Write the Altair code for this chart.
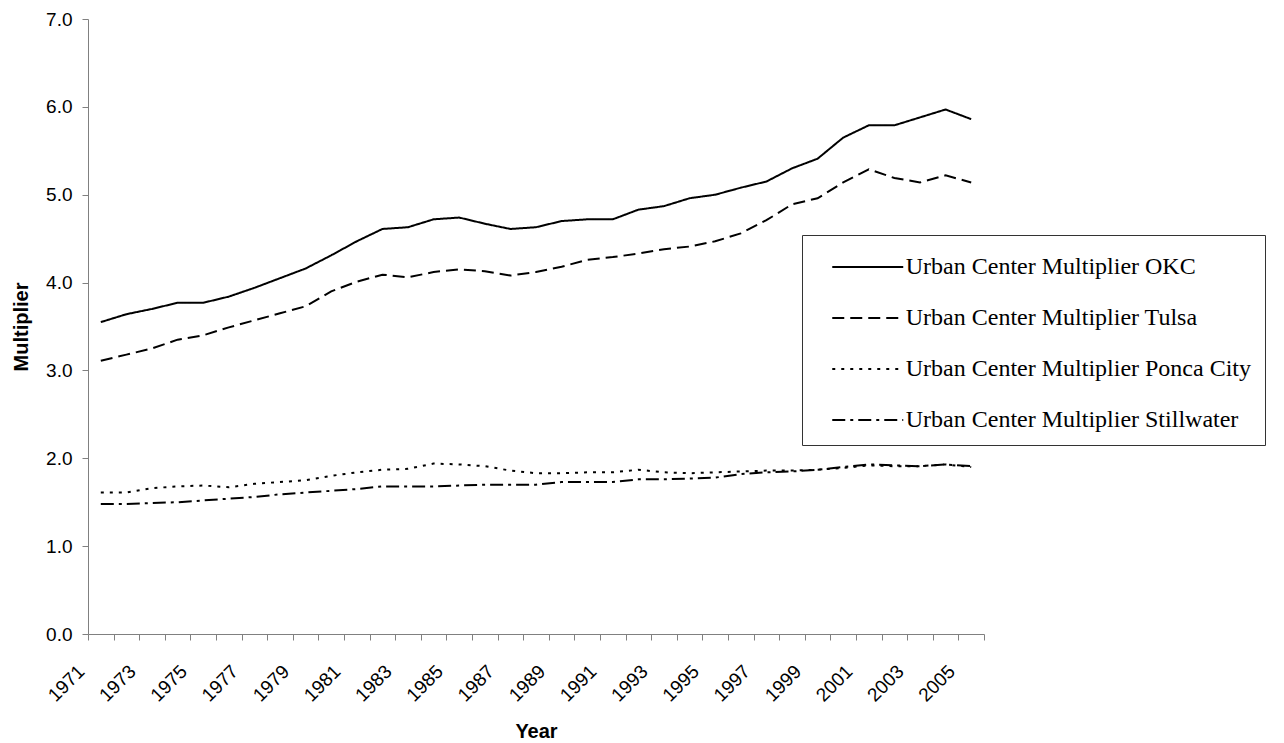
import altair as alt
import pandas as pd

years = [1971, 1972, 1973, 1974, 1975, 1976, 1977, 1978, 1979, 1980,
         1981, 1982, 1983, 1984, 1985, 1986, 1987, 1988, 1989, 1990,
         1991, 1992, 1993, 1994, 1995, 1996, 1997, 1998, 1999, 2000,
         2001, 2002, 2003, 2004, 2005]

okc = [3.55, 3.64, 3.70, 3.77, 3.77, 3.84, 3.94, 4.05, 4.16, 4.31,
       4.47, 4.61, 4.63, 4.72, 4.74, 4.67, 4.61, 4.63, 4.70, 4.72,
       4.72, 4.83, 4.87, 4.96, 5.00, 5.08, 5.15, 5.30, 5.41, 5.65,
       5.79, 5.79, 5.88, 5.97, 5.86]

tulsa = [3.11, 3.18, 3.25, 3.35, 3.40, 3.49, 3.57, 3.65, 3.73, 3.90,
         4.01, 4.09, 4.06, 4.12, 4.15, 4.13, 4.08, 4.12, 4.18, 4.26,
         4.29, 4.33, 4.38, 4.41, 4.47, 4.56, 4.71, 4.89, 4.96, 5.14,
         5.29, 5.19, 5.14, 5.22, 5.14]

ponca = [1.61, 1.61, 1.66, 1.68, 1.69, 1.67, 1.71, 1.73, 1.75, 1.80,
         1.84, 1.87, 1.88, 1.94, 1.93, 1.91, 1.86, 1.83, 1.83, 1.84,
         1.84, 1.87, 1.84, 1.83, 1.84, 1.85, 1.86, 1.86, 1.87, 1.89,
         1.92, 1.91, 1.91, 1.93, 1.90]

stillwater = [1.48, 1.48, 1.49, 1.50, 1.52, 1.54, 1.56, 1.59, 1.61, 1.63,
              1.65, 1.68, 1.68, 1.68, 1.69, 1.70, 1.70, 1.70, 1.73, 1.73,
              1.73, 1.76, 1.76, 1.77, 1.78, 1.82, 1.84, 1.85, 1.87, 1.90,
              1.93, 1.92, 1.91, 1.93, 1.91]

series_names = ["Urban Center Multiplier OKC",
                "Urban Center Multiplier Tulsa",
                "Urban Center Multiplier Ponca City",
                "Urban Center Multiplier Stillwater"]
dash_styles = [[1, 0], [12, 6], [3, 6], [13, 5, 3, 5]]

y_ticks = [0, 1, 2, 3, 4, 5, 6, 7]

rows = []
for name, vals in zip(series_names, [okc, tulsa, ponca, stillwater]):
    for yr, v in zip(years, vals):
        rows.append({"Year": yr, "Multiplier": v, "Series": name})
df = pd.DataFrame(rows)

# tick marks sit on the category boundaries
tick_vals = [yr - 0.5 for yr in years] + [years[-1] + 0.5]

W, H = 896, 615

chart = alt.Chart(df).mark_line(color="black", strokeWidth=2).encode(
    x=alt.X("Year:Q",
            scale=alt.Scale(domain=[years[0] - 0.5, years[-1] + 0.5], nice=False, zero=False),
            axis=alt.Axis(values=tick_vals,
                          labelExpr="(datum.value + 0.5) % 2 == 1 ? toString(datum.value + 0.5) : ''",
                          labelAngle=-45, labelAlign="right", labelBaseline="middle",
                          labelOffset=-7, labelPadding=28,
                          labelFont="Liberation Sans", labelFontSize=19, labelColor="black",
                          labelOverlap=False, labelFlush=False,
                          tickSize=6, tickColor="#808080", domainColor="#808080",
                          tickWidth=1, domainWidth=1, grid=False,
                          title="Year", titleFont="Liberation Sans", titleFontSize=20,
                          titleFontWeight="bold", titleColor="black",
                          titleX=W / 2, titleY=103, titleBaseline="alphabetic",
                          titleAlign="center")),
    y=alt.Y("Multiplier:Q",
            scale=alt.Scale(domain=[0, 7], nice=False),
            axis=alt.Axis(values=y_ticks, format=".1f",
                          labelFont="Liberation Sans", labelFontSize=19, labelColor="black",
                          labelPadding=10, tickSize=6, tickColor="#808080",
                          domainColor="#808080", tickWidth=1, domainWidth=1, grid=False,
                          title="Multiplier", titleFont="Liberation Sans", titleFontSize=20,
                          titleFontWeight="bold", titleColor="black",
                          titleX=-67, titleY=H / 2, titleAngle=-90,
                          titleAlign="center", titleBaseline="middle")),
    strokeDash=alt.StrokeDash("Series:N",
                              scale=alt.Scale(domain=series_names, range=dash_styles),
                              legend=alt.Legend(title=None, orient="none",
                                                legendX=714, legendY=216,
                                                symbolType="M-2,0H2", symbolSize=1260,
                                                symbolOffset=33.75,
                                                symbolStrokeWidth=2, symbolStrokeColor="black",
                                                labelFont="Liberation Serif", labelFontSize=24,
                                                labelColor="black", labelLimit=1000,
                                                labelOffset=19, padding=13, rowPadding=20,
                                                strokeColor="#333333", fillColor="white")),
).properties(
    width=W, height=H,
    padding={"left": 80, "top": 11, "right": 292, "bottom": 110},
    autosize=alt.AutoSizeParams(type="none"),
).configure(background="white").configure_view(strokeWidth=0, stroke="transparent")

chart.save("out.html", embed_options={"renderer": "svg", "actions": False})
